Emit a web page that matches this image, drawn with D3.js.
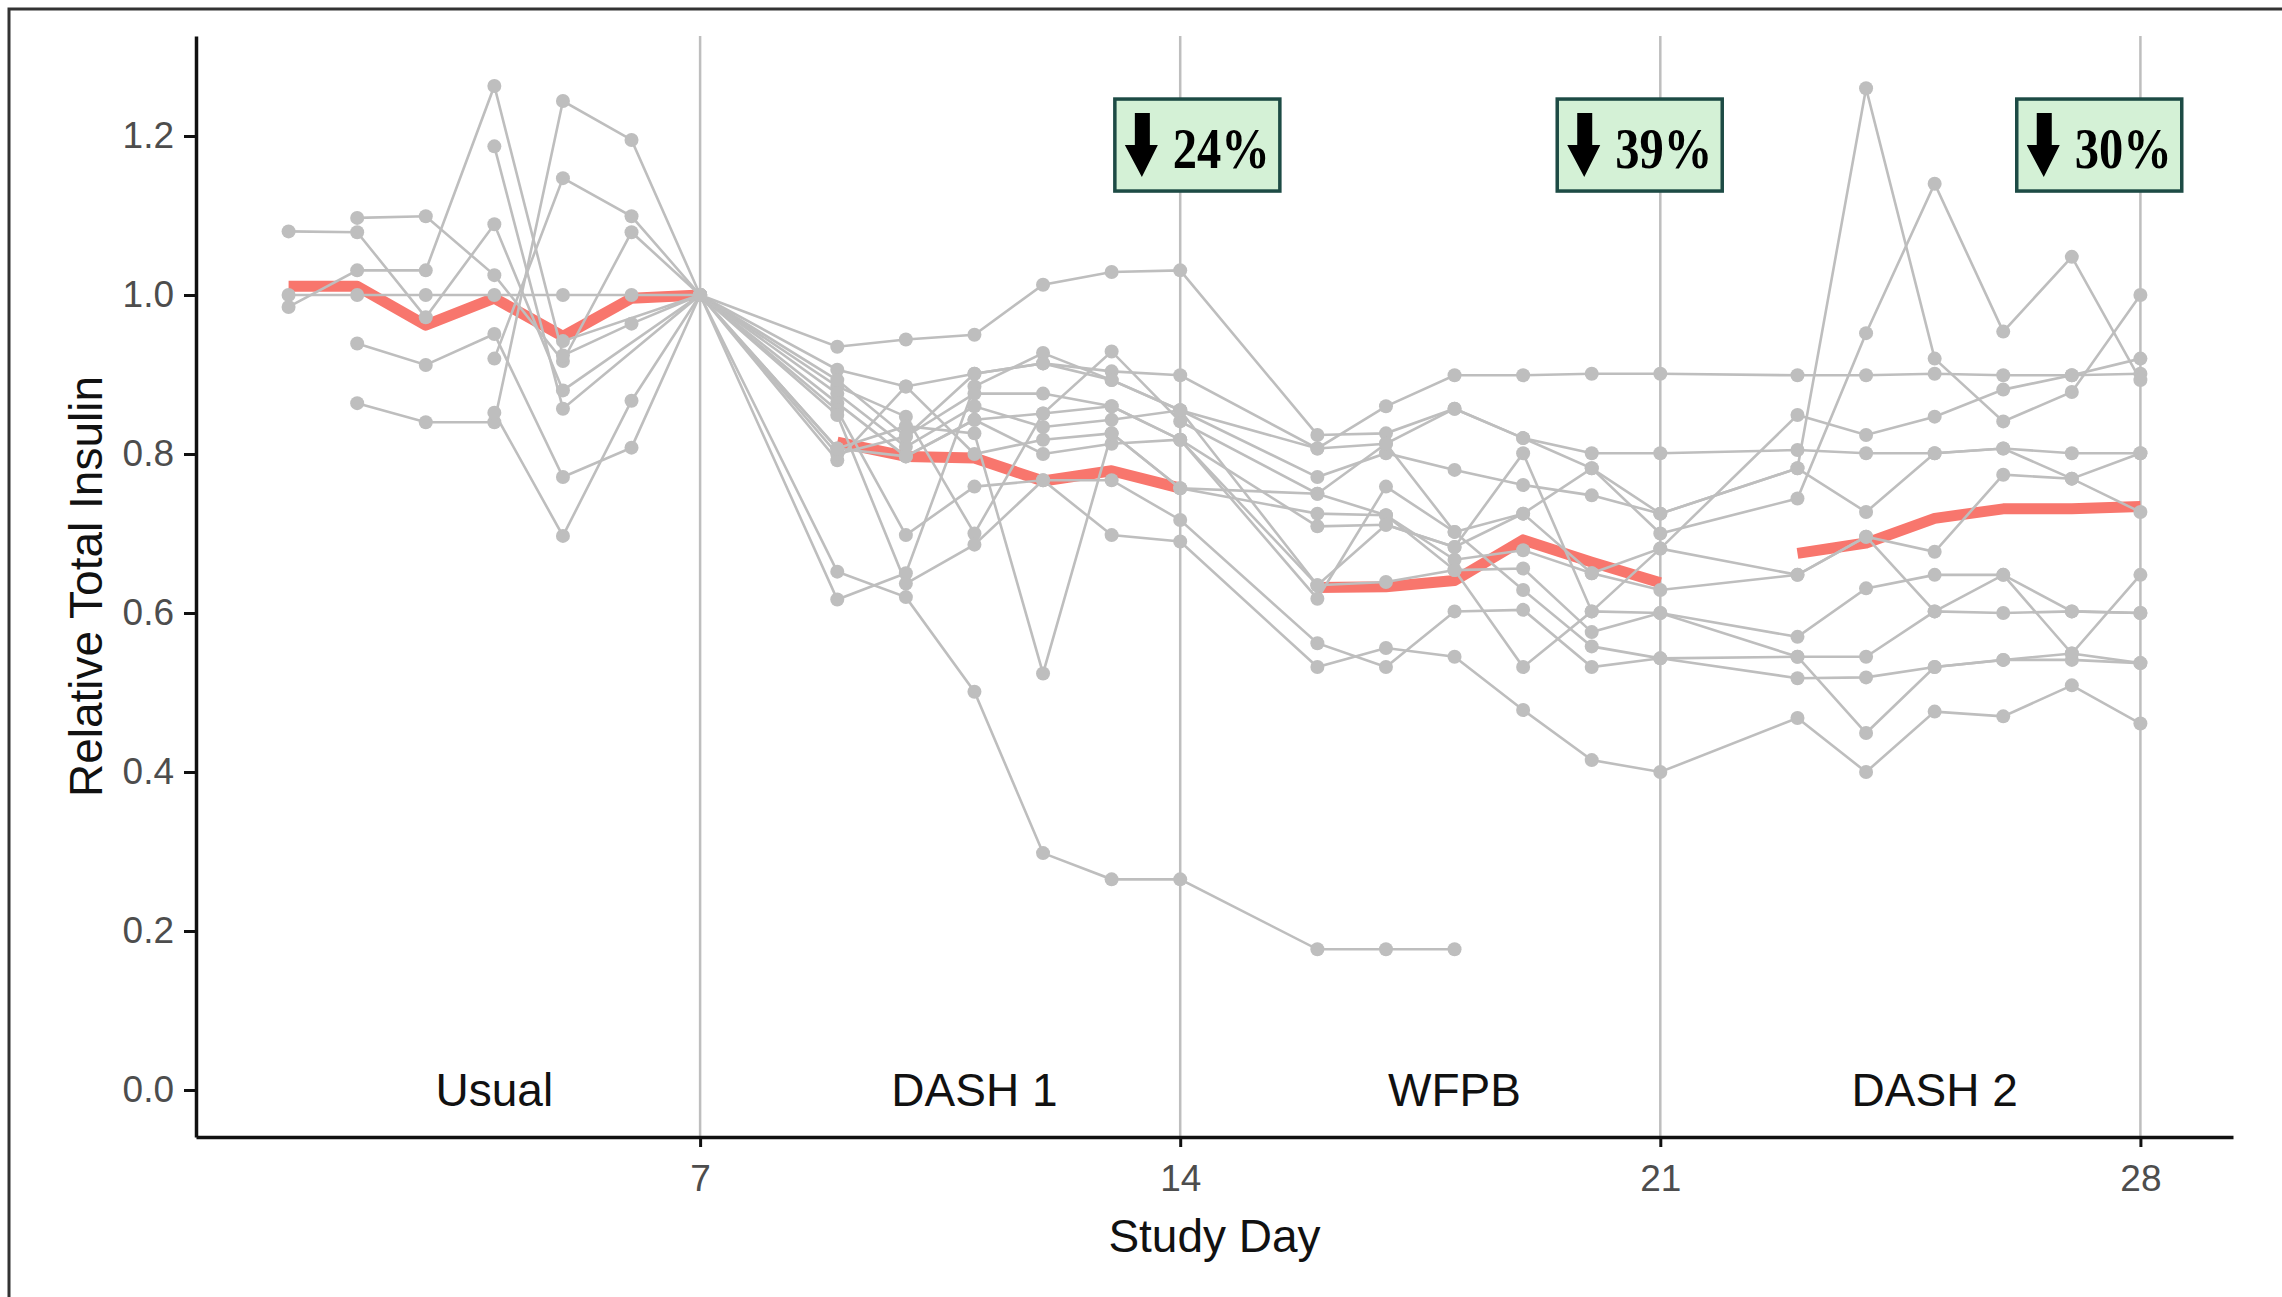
<!DOCTYPE html>
<html>
<head>
<meta charset="utf-8">
<title>Relative Total Insulin by Study Day</title>
<script src="https://cdn.jsdelivr.net/npm/d3@7"></script>
<style>
  html, body { margin: 0; padding: 0; background: #fff; }
  svg { display: block; }
  text { font-family: "Liberation Sans", Arial, Helvetica, sans-serif; }
  text.drop-label { font-family: "Liberation Serif", "Times New Roman", serif; font-weight: bold; }
</style>
</head>
<body>
<svg id="chart" width="2282" height="1297"></svg>
<script>
// Days with measurements (no samples on days 8, 15 and 22)
const studyDays = [1, 2, 3, 4, 5, 6, 7, 9, 10, 11, 12, 13, 14, 16, 17, 18, 19, 20, 21, 23, 24, 25, 26, 27, 28];

// One array per participant, aligned with studyDays (null = no sample)
const subjectA = [1.0, 1.0, 1.0, 1.0, 1.0, 1.0, 1.0, 0.906, 0.885, 0.901, 0.914, 0.904, 0.899, 0.807, 0.86, 0.899, 0.899, 0.901, 0.901, 0.899, 0.899, 0.901, 0.899, 0.899, 0.901];
const subjectB = [null, 1.097, 1.099, 1.025, 0.917, 1.079, 1.0, 0.935, 0.944, 0.95, 1.013, 1.029, 1.031, 0.824, 0.826, 0.857, 0.82, 0.801, 0.801, 0.805, 0.801, 0.801, 0.807, 0.801, 0.801];
const subjectC = [1.08, 1.079, 0.972, 1.089, 0.88, null, 1.0, 0.617, 0.65, 0.885, 0.927, 0.893, 0.855, 0.771, 0.801, 0.78, 0.761, 0.748, 0.725, 0.782, 1.26, 0.92, 0.841, 0.878, 1.0];
const subjectD = [null, null, null, null, 0.942, null, 1.0, 0.885, 0.847, 0.70, 0.851, 0.929, 0.841, 0.75, 0.813, 0.702, 0.725, 0.782, 0.70, 0.744, 0.952, 1.14, 0.954, 1.048, 0.893];
const subjectE = [null, 0.939, 0.912, 0.951, 0.771, 0.808, 1.0, 0.652, 0.62, 0.501, 0.298, 0.265, 0.265, 0.177, 0.177, 0.177, null, null, null, null, null, null, null, null, null];
const subjectF = [null, null, null, null, null, null, 1.0, 0.807, 0.835, 0.826, 0.524, 0.826, 0.757, 0.725, 0.723, 0.667, 0.679, 0.65, 0.629, 0.648, 0.696, 0.677, 0.774, 0.769, 0.727];
const subjectG = [0.985, 1.031, 1.031, 1.263, 0.924, 0.964, 1.0, 0.893, 0.822, 0.876, 0.876, 0.86, 0.818, 0.709, 0.711, 0.683, 0.801, 0.602, 0.681, 0.849, 0.824, 0.847, 0.881, 0.899, 0.92];
const subjectH = [null, 0.864, 0.84, 0.84, 1.244, 1.195, 1.0, 0.876, 0.809, 0.86, 0.834, 0.843, 0.855, 0.635, 0.639, 0.654, 0.656, 0.576, 0.60, 0.57, 0.631, 0.648, 0.648, 0.549, 0.648];
const subjectI = [null, null, null, 1.187, 0.857, null, 1.0, 0.864, 0.797, 0.843, 0.80, 0.813, 0.818, 0.618, 0.759, 0.702, 0.629, 0.558, 0.543, 0.545, 0.545, 0.602, 0.60, 0.602, 0.60];
const subjectJ = [null, null, null, 0.92, 1.147, 1.099, 1.0, 0.855, 0.698, 0.759, 0.767, 0.767, 0.717, 0.562, 0.532, 0.602, 0.604, 0.532, 0.543, 0.518, 0.519, 0.532, 0.541, 0.541, 0.537];
const subjectK = [null, null, null, 0.852, 0.697, 0.867, 1.0, 0.849, 0.637, 0.686, 0.767, 0.698, 0.69, 0.532, 0.556, 0.545, 0.478, 0.415, 0.40, 0.468, 0.40, 0.476, 0.47, 0.509, 0.461];
const subjectL = [null, null, null, null, null, null, 1.0, 0.792, 0.885, 0.80, 0.818, 0.826, 0.757, 0.75, 0.723, 0.654, 0.532, 0.602, 0.60, 0.545, 0.449, 0.532, 0.541, 0.549, 0.537];
const subjectM = [null, null, null, null, null, null, 1.0, 0.80, 0.822, 0.901, 0.914, 0.893, 0.855, 0.807, 0.813, 0.857, 0.82, 0.782, 0.725, 0.782, 0.727, 0.801, 0.807, 0.769, 0.801];
const subjectN = [null, null, null, null, null, null, 1.0, 0.807, 0.797, 0.843, 0.851, 0.86, 0.818, 0.635, 0.711, 0.683, 0.725, 0.65, 0.681, 0.648, 0.696, 0.602, 0.648, 0.602, 0.60];

const subjects = [subjectA, subjectB, subjectC, subjectD, subjectE, subjectF, subjectG,
                  subjectH, subjectI, subjectJ, subjectK, subjectL, subjectM, subjectN];

// Group mean trend, aligned with studyDays
const meanValues = [1.011, 1.011, 0.962, 0.996, 0.948, 0.996, 1.0, 0.815, 0.797, 0.795, 0.766, 0.779, 0.757,
                    0.632, 0.633, 0.641, 0.692, 0.664, 0.638, 0.675, 0.688, 0.719, 0.731, 0.731, 0.734];

// Diet phases
const phaseNames = ["Usual", "DASH 1", "WFPB", "DASH 2"];
const phaseLabelDays = [4, 11, 18, 25];
const phaseEnds = [7, 14, 21, 28];

// Axis ticks
const xTicks = [7, 14, 21, 28];
const yTicks = [0.0, 0.2, 0.4, 0.6, 0.8, 1.0, 1.2];

// Reduction call-outs
const dropLabels = ["24%", "39%", "30%"];
const dropDays = [14.25, 20.7, 27.4];

const width = 2282, height = 1297;
const panel = { left: 196, right: 2233, top: 36, bottom: 1137 };
const gray = "#bebebe";

const svg = d3.select("#chart");

const x = d3.scaleLinear().domain([-0.35, 29.35]).range([panel.left, panel.right]);
const y = d3.scaleLinear().domain([-0.0591, 1.3258]).range([panel.bottom, panel.top]);

// outer frame (only the left and top edges fall inside the picture)
svg.append("rect")
  .attr("x", 9).attr("y", 9)
  .attr("width", width).attr("height", height)
  .attr("fill", "none")
  .attr("stroke", "#333")
  .attr("stroke-width", 3);

// vertical lines at the end of each phase
svg.append("g")
  .selectAll("line")
  .data(xTicks)
  .join("line")
  .attr("x1", d => x(d)).attr("x2", d => x(d))
  .attr("y1", panel.top).attr("y2", panel.bottom)
  .attr("stroke", gray)
  .attr("stroke-width", 2.5);

// phase of a given day
const phaseOf = day => d3.bisectLeft(phaseEnds, day);

// mean trend, one segment per phase (drawn under the individual lines)
const meanPoints = studyDays.map((day, i) => ({ day, value: meanValues[i], phase: phaseOf(day) }));
const line = d3.line().x(d => x(d.day)).y(d => y(d.value));

svg.append("g")
  .selectAll("path")
  .data(d3.groups(meanPoints, d => d.phase).map(g => g[1]))
  .join("path")
  .attr("d", line)
  .attr("fill", "none")
  .attr("stroke", "#F8766D")
  .attr("stroke-width", 11)
  .attr("stroke-linejoin", "round");

// individual participants
const subjectPoints = subjects.map(values =>
  studyDays.map((day, i) => ({ day, value: values[i] })).filter(d => d.value !== null)
);

svg.append("g")
  .selectAll("path")
  .data(subjectPoints)
  .join("path")
  .attr("d", line)
  .attr("fill", "none")
  .attr("stroke", gray)
  .attr("stroke-width", 2.6);

svg.append("g")
  .selectAll("circle")
  .data(subjectPoints.flat())
  .join("circle")
  .attr("cx", d => x(d.day))
  .attr("cy", d => y(d.value))
  .attr("r", 7)
  .attr("fill", gray);

// phase labels sit at y = 0
svg.append("g")
  .selectAll("text")
  .data(phaseNames)
  .join("text")
  .attr("x", (d, i) => x(phaseLabelDays[i]))
  .attr("y", y(0))
  .attr("dominant-baseline", "central")
  .attr("text-anchor", "middle")
  .attr("font-size", 46)
  .attr("fill", "#111")
  .text(d => d);

// axes
const yAxis = svg.append("g")
  .attr("transform", `translate(${panel.left},0)`)
  .call(d3.axisLeft(y).tickValues(yTicks).tickFormat(d3.format(".1f")).tickSize(12).tickSizeOuter(0).tickPadding(10));

const xAxis = svg.append("g")
  .attr("transform", `translate(0,${panel.bottom})`)
  .call(d3.axisBottom(x).tickValues(xTicks).tickSize(10).tickSizeOuter(0).tickPadding(18));

[yAxis, xAxis].forEach(axis => {
  axis.attr("font-family", null);
  axis.select(".domain").attr("stroke", "#111").attr("stroke-width", 3.5);
  axis.selectAll(".tick line").attr("stroke", "#111").attr("stroke-width", 3);
  axis.selectAll(".tick text").attr("font-size", 37).attr("fill", "#4d4d4d");
});

// axis titles
svg.append("text")
  .attr("x", (panel.left + panel.right) / 2)
  .attr("y", 1252)
  .attr("text-anchor", "middle")
  .attr("font-size", 46)
  .attr("fill", "#111")
  .text("Study Day");

svg.append("text")
  .attr("transform", `translate(102,${(panel.top + panel.bottom) / 2}) rotate(-90)`)
  .attr("text-anchor", "middle")
  .attr("font-size", 46)
  .attr("fill", "#111")
  .text("Relative Total Insulin");

// reduction boxes with a down arrow
const boxW = 165, boxH = 92;
const drop = svg.append("g")
  .selectAll("g")
  .data(dropLabels)
  .join("g")
  .attr("transform", (d, i) => `translate(${x(dropDays[i]) - boxW / 2},${y(1.2465)})`);

drop.append("rect")
  .attr("width", boxW).attr("height", boxH)
  .attr("fill", "#d4f1d6")
  .attr("stroke", "#1d4b45")
  .attr("stroke-width", 3.5);

drop.append("path")
  .attr("d", "M20,14 H35 V46 H43 L27,78 L10,46 H20 Z")
  .attr("fill", "#000");

drop.append("text")
  .attr("class", "drop-label")
  .attr("x", 58).attr("y", 69)
  .attr("font-size", 56)
  .attr("textLength", 97)
  .attr("lengthAdjust", "spacingAndGlyphs")
  .attr("fill", "#000")
  .text(d => d);
</script>
</body>
</html>
